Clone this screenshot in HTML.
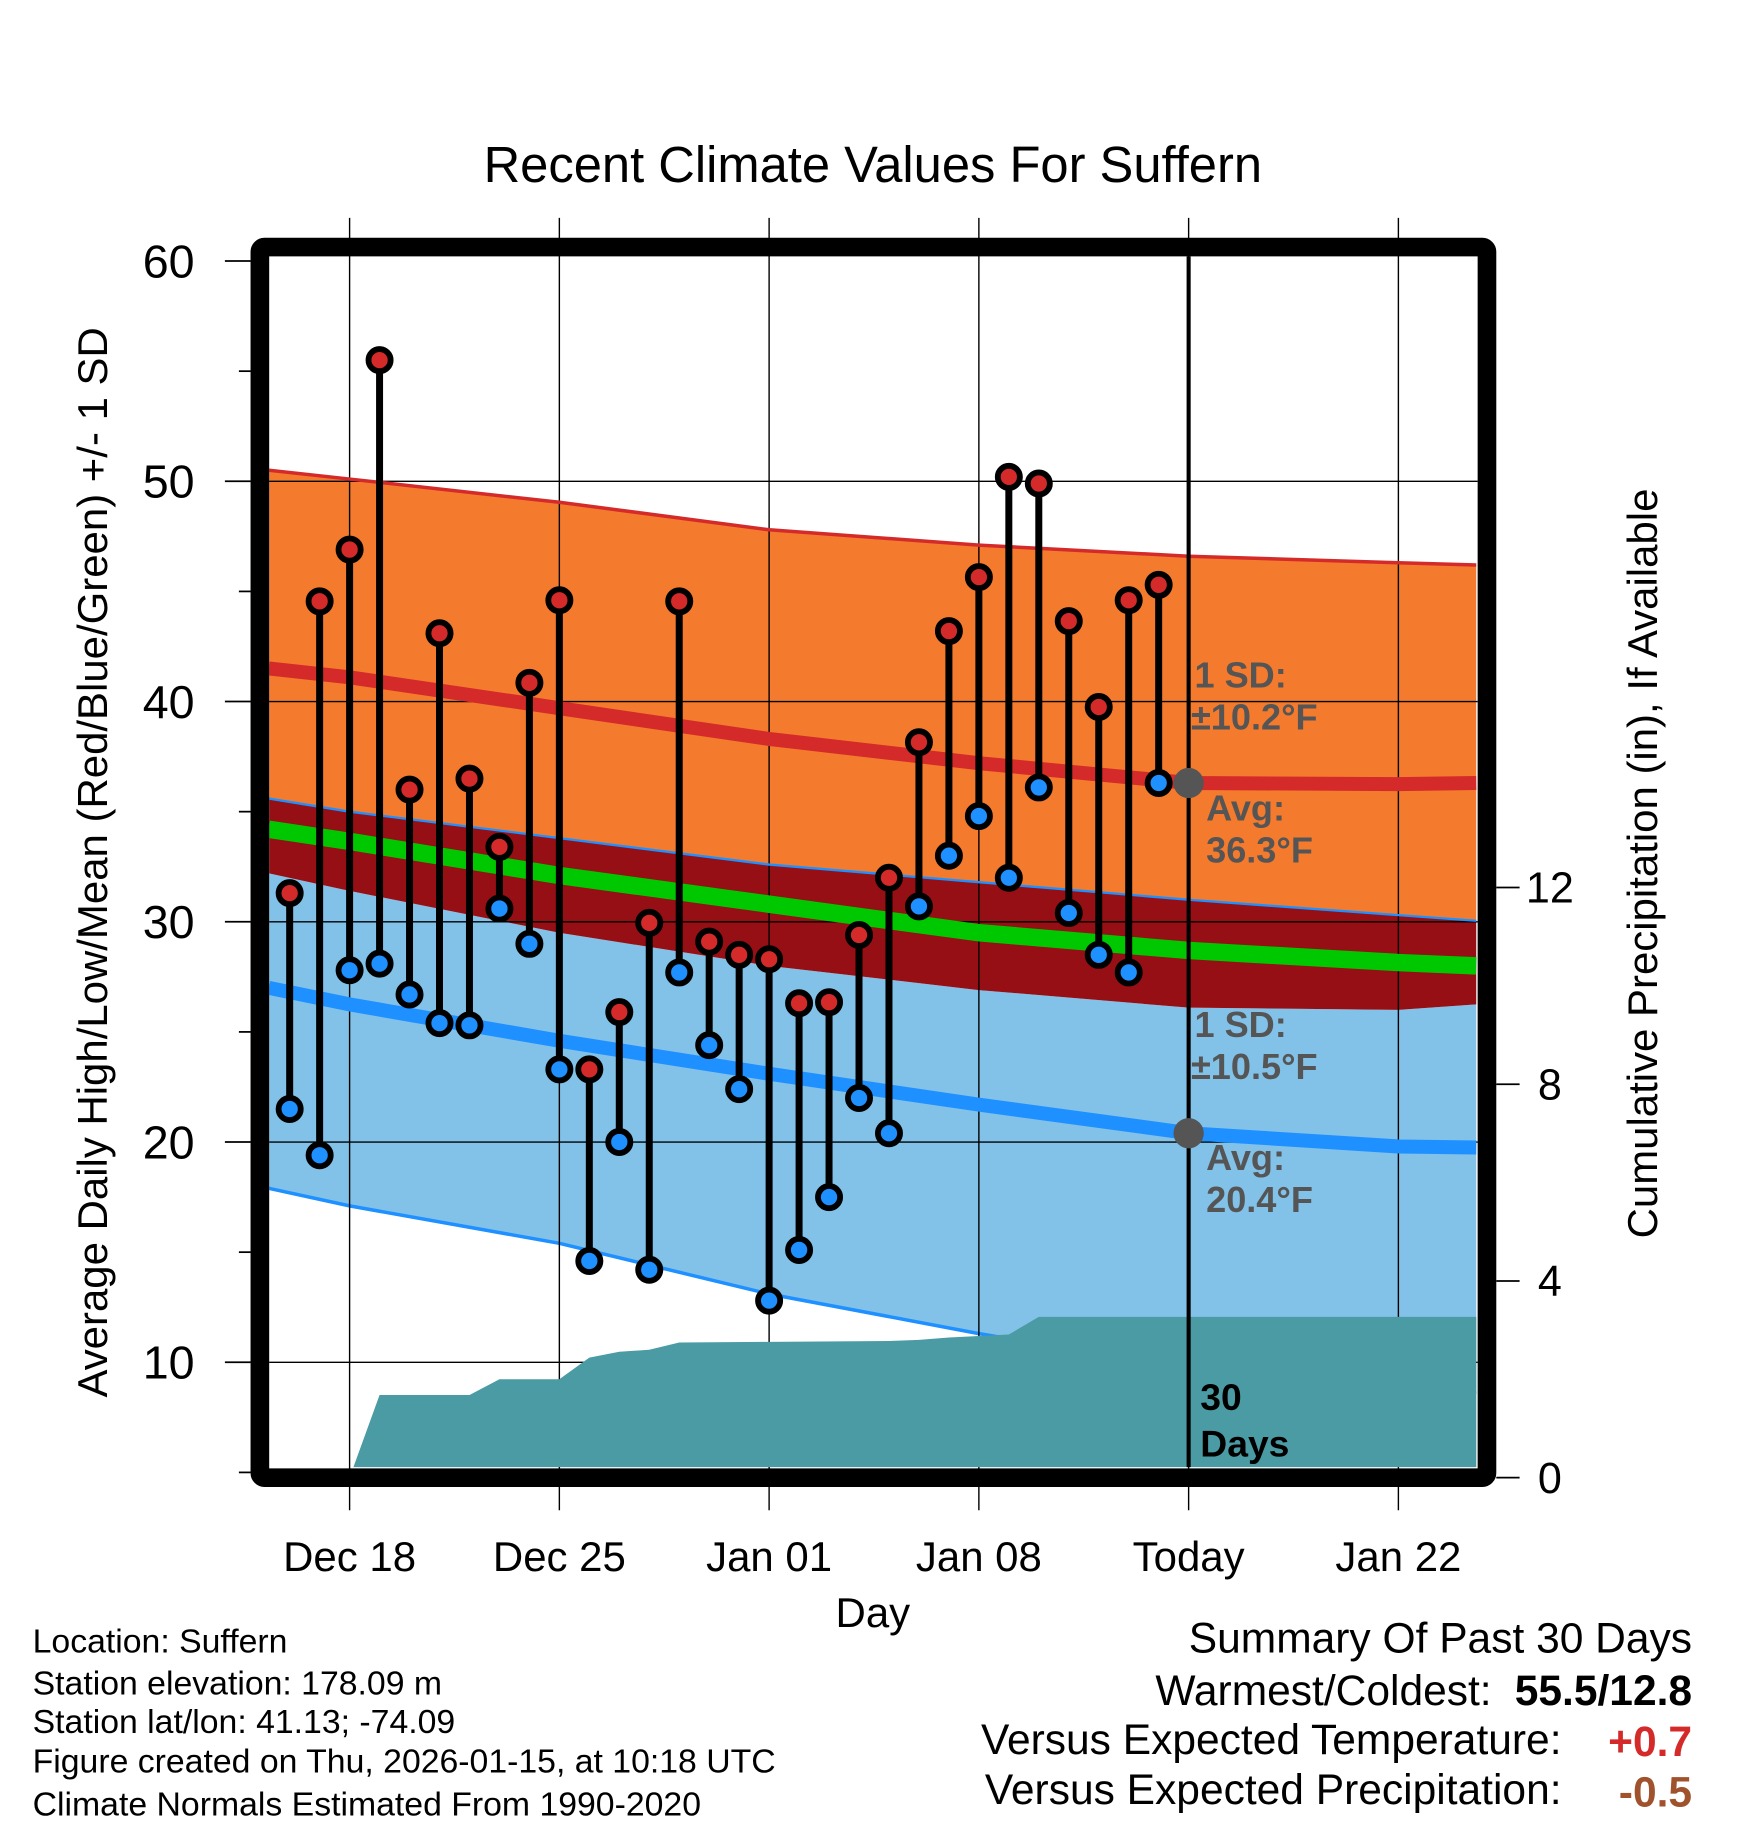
<!DOCTYPE html>
<html><head><meta charset="utf-8">
<style>
html,body{margin:0;padding:0;background:#fff;}
svg{display:block;font-family:"Liberation Sans",Arial,sans-serif;}
</style></head>
<body>
<svg id="chart" width="1748" height="1828" viewBox="0 0 1500 1568.64" xmlns="http://www.w3.org/2000/svg">
<rect x="0" y="0" width="1500" height="1568.64" fill="#fff"/>
<text x="749" y="156" font-size="43.5" text-anchor="middle">Recent Climate Values For Suffern</text>
<defs><clipPath id="plotclip"><rect x="231" y="220" width="1037" height="1039"/></clipPath></defs>
<g id="bands" clip-path="url(#plotclip)"></g>
<g id="grid"></g>
<g id="precip" clip-path="url(#plotclip)"></g>
<g id="lines" clip-path="url(#plotclip)"></g>
<g id="marks"></g>
<g id="annot"></g>
<rect x="223" y="212" width="1053" height="1056" fill="none" stroke="#000" stroke-width="16" rx="4"/>
<g id="axes"></g>
<text transform="translate(92,740) rotate(-90)" font-size="36" text-anchor="middle">Average Daily High/Low/Mean (Red/Blue/Green) +/- 1 SD</text>
<text transform="translate(1422,741) rotate(-90)" font-size="36" text-anchor="middle">Cumulative Precipitation (in), If Available</text>
<text x="749" y="1396" font-size="36" text-anchor="middle">Day</text>
<g font-size="29">
<text x="28" y="1418">Location: Suffern</text>
<text x="28" y="1454">Station elevation: 178.09 m</text>
<text x="28" y="1487">Station lat/lon: 41.13; -74.09</text>
<text x="28" y="1521">Figure created on Thu, 2026-01-15, at 10:18 UTC</text>
<text x="28" y="1558">Climate Normals Estimated From 1990-2020</text>
</g>
<g font-size="36.5">
<text x="1452" y="1418" text-anchor="end">Summary Of Past 30 Days</text>
<text x="1280" y="1463" text-anchor="end">Warmest/Coldest:</text>
<text x="1452" y="1463" text-anchor="end" font-weight="bold">55.5/12.8</text>
<text x="1340" y="1505" text-anchor="end">Versus Expected Temperature:</text>
<text x="1452" y="1507" text-anchor="end" font-weight="bold" fill="#d42a2a">+0.7</text>
<text x="1340" y="1548" text-anchor="end">Versus Expected Precipitation:</text>
<text x="1452" y="1550" text-anchor="end" font-weight="bold" fill="#a0522d">-0.5</text>
</g>
</svg>
<script>
// Days relative to Dec 18 (0 = Dec 18)
const normDays   = [-2.7, 0, 7, 14, 21, 28, 35, 37.6];
const highUpper  = [50.5, 50.1, 49.05, 47.8, 47.1, 46.6, 46.3, 46.2];
const highMean   = [41.5, 41.1, 39.7, 38.3, 37.2, 36.3, 36.25, 36.3];
const highLower  = [35.6, 35.0, 33.8, 32.6, 31.8, 31.0, 30.3, 30.05];
const meanLine   = [34.2, 33.65, 32.1, 30.8, 29.5, 28.7, 28.15, 28.0];
const lowUpper   = [32.2, 31.4, 29.5, 28.0, 26.9, 26.1, 26.0, 26.25];
const lowMean    = [27.0, 26.25, 24.6, 23.1, 21.7, 20.4, 19.8, 19.75];
const lowLower   = [17.9, 17.1, 15.4, 13.1, 11.3, 9.7, 8.9, 8.6];
const obsDays = [-2,-1,0,1,2,3,4,5,6,7,8,9,10,11,12,13,14,15,16,17,18,19,20,21,22,23,24,25,26,27];
const obsHigh = [31.3,44.55,46.9,55.5,36.0,43.1,36.5,33.4,40.85,44.6,23.3,25.9,29.95,44.55,29.1,28.5,28.3,26.3,26.35,29.4,32.0,38.15,43.2,45.65,50.2,49.9,43.65,39.75,44.6,45.3];
const obsLow  = [21.5,19.4,27.8,28.1,26.7,25.4,25.3,30.6,29.0,23.3,14.6,20.0,14.2,27.7,24.4,22.4,12.8,15.1,17.5,22.0,20.4,30.7,33.0,34.8,32.0,36.1,30.4,28.5,27.7,36.3];
const precipDays = [-2.7, 0, 1, 4, 5, 7, 8, 9, 10, 11, 14, 18, 19, 20, 21, 22, 23, 37.6];
const precipVals = [0, 0, 1.68, 1.68, 2.0, 2.0, 2.44, 2.56, 2.6, 2.75, 2.76, 2.78, 2.8, 2.85, 2.88, 2.91, 3.27, 3.27];
const yTicks = [10,20,30,40,50,60];
const yMinor = [5,15,25,35,45,55];
const y2Ticks = [0,4,8,12];
const xTickDays = [0,7,14,21,28,35];
const xTickLabels = ["Dec 18","Dec 25","Jan 01","Jan 08","Today","Jan 22"];
const todayDay = 28;

const NS="http://www.w3.org/2000/svg";
const X = d => 300 + d*25.714;
const Y = t => 224 + (60-t)*18.9;
const Y2 = p => 1268 - p*42.2;
function mk(tag, attrs, parent){const e=document.createElementNS(NS,tag);for(const k in attrs)e.setAttribute(k,attrs[k]);parent.appendChild(e);return e;}
const g = id => document.getElementById(id);
function linePath(days, vals, yf){return days.map((d,i)=>(i?'L':'M')+X(d).toFixed(1)+','+yf(vals[i]).toFixed(1)).join(' ');}
function bandPath(days, up, lo){
  let p=linePath(days,up,Y);
  for(let i=days.length-1;i>=0;i--)p+=' L'+X(days[i]).toFixed(1)+','+Y(lo[i]).toFixed(1);
  return p+' Z';
}
let e;
e=mk('path',{d:bandPath(normDays,highUpper,highLower),fill:'#f47a2e'},g('bands'));


e=mk('path',{d:bandPath(normDays,lowUpper,lowLower),fill:'#82c1e8'},g('bands'));


e=mk('path',{d:bandPath(normDays,highLower,lowUpper),fill:'#950f14'},g('bands'));


e=mk('path',{d:linePath(normDays,lowLower,Y),fill:'none',stroke:'#1e90ff','stroke-width':3},g('bands'));


const gg=g('grid');
yTicks.forEach(t=>{ if(t<60){e=mk('line',{x1:231,x2:1268,y1:Y(t),y2:Y(t),stroke:'#000','stroke-width':1.2},gg);

}});
xTickDays.forEach((d,i)=>{e=mk('line',{x1:X(d),x2:X(d),y1:187,y2:1296,stroke:'#000','stroke-width':1.2},gg);

});
const pp=linePath(precipDays,precipVals,Y2)+' L'+X(precipDays[precipDays.length-1])+','+Y2(0)+' L'+X(precipDays[0])+','+Y2(0)+' Z';
e=mk('path',{d:pp,fill:'#4a9ba4'},g('precip'));


const gl=g('lines');
e=mk('path',{d:linePath(normDays,highUpper,Y),fill:'none',stroke:'#d42a2a','stroke-width':3},gl);


e=mk('path',{d:linePath(normDays,highLower,Y),fill:'none',stroke:'#1e90ff','stroke-width':2},gl);


e=mk('path',{d:linePath(normDays,highMean,Y),fill:'none',stroke:'#d42a2a','stroke-width':12},gl);


e=mk('path',{d:linePath(normDays,meanLine,Y),fill:'none',stroke:'#00c800','stroke-width':15},gl);


e=mk('path',{d:linePath(normDays,lowMean,Y),fill:'none',stroke:'#1e90ff','stroke-width':12},gl);


e=mk('line',{x1:X(todayDay),x2:X(todayDay),y1:220,y2:1260,stroke:'#000','stroke-width':3.5},gl);


const gm=g('marks');
obsDays.forEach((d,i)=>{
  e=mk('line',{x1:X(d),x2:X(d),y1:Y(obsHigh[i]),y2:Y(obsLow[i]),stroke:'#000','stroke-width':6},gm);
  
  
});
obsDays.forEach((d,i)=>{
  e=mk('circle',{cx:X(d),cy:Y(obsHigh[i]),r:9.5,fill:'#d42a2a',stroke:'#000','stroke-width':5},gm);
  
  
  e=mk('circle',{cx:X(d),cy:Y(obsLow[i]),r:9.5,fill:'#1e90ff',stroke:'#000','stroke-width':5},gm);
  
  
});
const ga=g('annot');
const tx=X(todayDay);
e=mk('circle',{cx:tx,cy:Y(highMean[5]),r:13,fill:'#555'},ga);


e=mk('circle',{cx:tx,cy:Y(lowMean[5]),r:13,fill:'#555'},ga);


const ann=[["1 SD:",1025,590],["±10.2°F",1022,626],["Avg:",1035,704],["36.3°F",1035,740],["1 SD:",1025,890],["±10.5°F",1022,926],["Avg:",1035,1004],["20.4°F",1035,1040]];
ann.forEach(a=>{e=mk('text',{x:a[1],y:a[2],'font-size':31,'font-weight':'bold',fill:'#555'},ga);e.textContent=a[0];

});
[["30",1210],["Days",1250]].forEach(a=>{e=mk('text',{x:1030,y:a[1],'font-size':32,'font-weight':'bold',fill:'#000'},ga);e.textContent=a[0];

});
const gx=g('axes');
yTicks.forEach(t=>{e=mk('line',{x1:193,x2:215,y1:Y(t),y2:Y(t),stroke:'#000','stroke-width':1.5},gx);


e=mk('text',{x:167,y:Y(t)+14,'font-size':40,'text-anchor':'end'},gx);e.textContent=t;

});
yMinor.forEach(t=>{e=mk('line',{x1:205,x2:215,y1:Y(t),y2:Y(t),stroke:'#000','stroke-width':1.5},gx);

});
y2Ticks.forEach(p=>{e=mk('line',{x1:1284,x2:1304,y1:Y2(p),y2:Y2(p),stroke:'#000','stroke-width':1.5},gx);


e=mk('text',{x:1330,y:Y2(p)+13,'font-size':37,'text-anchor':'middle'},gx);e.textContent=p;

});
xTickDays.forEach((d,i)=>{e=mk('text',{x:X(d),y:1348,'font-size':36,'text-anchor':'middle'},gx);e.textContent=xTickLabels[i];

});
</script>
</body></html>
